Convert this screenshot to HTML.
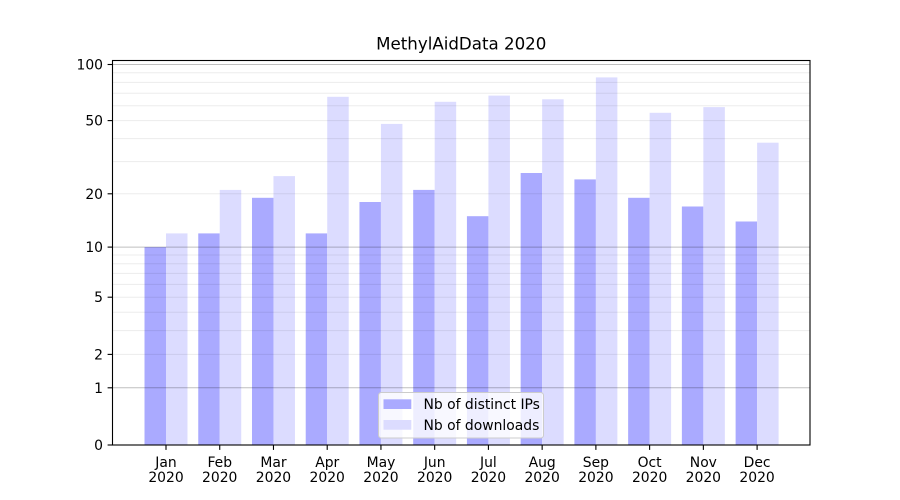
<!DOCTYPE html>
<html>
<head>
<meta charset="utf-8">
<style>
  html, body { margin: 0; padding: 0; background: #ffffff; }
  svg { display: block; }
  text { font-family: "DejaVu Sans", "Liberation Sans", sans-serif; fill: #000; }
</style>
</head>
<body>
<svg width="900" height="500" viewBox="0 0 900 500" xmlns="http://www.w3.org/2000/svg">
  <rect x="0" y="0" width="900" height="500" fill="#ffffff"/>

  <!-- Bars: distinct IPs -->
  <g fill="#aaaaff">
    <rect x="144.51" y="247.1" width="21.49" height="197.9"/>
    <rect x="198.25" y="233.4" width="21.49" height="211.6"/>
    <rect x="251.98" y="197.8" width="21.49" height="247.2"/>
    <rect x="305.72" y="233.4" width="21.49" height="211.6"/>
    <rect x="359.45" y="202.0" width="21.49" height="243.0"/>
    <rect x="413.19" y="189.9" width="21.49" height="255.1"/>
    <rect x="466.93" y="216.2" width="21.49" height="228.8"/>
    <rect x="520.66" y="173.0" width="21.49" height="272.0"/>
    <rect x="574.40" y="179.4" width="21.49" height="265.6"/>
    <rect x="628.13" y="197.8" width="21.49" height="247.2"/>
    <rect x="681.87" y="206.5" width="21.49" height="238.5"/>
    <rect x="735.61" y="221.5" width="21.49" height="223.5"/>
  </g>
  <!-- Bars: downloads -->
  <g fill="#dcdcff">
    <rect x="166.00" y="233.4" width="21.49" height="211.6"/>
    <rect x="219.74" y="189.9" width="21.49" height="255.1"/>
    <rect x="273.47" y="176.1" width="21.49" height="268.9"/>
    <rect x="327.21" y="96.8" width="21.49" height="348.2"/>
    <rect x="380.94" y="123.9" width="21.49" height="321.1"/>
    <rect x="434.68" y="101.8" width="21.49" height="343.2"/>
    <rect x="488.42" y="95.6" width="21.49" height="349.4"/>
    <rect x="542.15" y="99.3" width="21.49" height="345.7"/>
    <rect x="595.89" y="77.4" width="21.49" height="367.6"/>
    <rect x="649.62" y="112.8" width="21.49" height="332.2"/>
    <rect x="703.36" y="107.1" width="21.49" height="337.9"/>
    <rect x="757.10" y="142.7" width="21.49" height="302.3"/>
  </g>

  <!-- Minor gridlines -->
  <g stroke="#000" stroke-opacity="0.075" stroke-width="1">
    <line x1="112.5" x2="810" y1="354.4" y2="354.4"/>
    <line x1="112.5" x2="810" y1="330.6" y2="330.6"/>
    <line x1="112.5" x2="810" y1="312.2" y2="312.2"/>
    <line x1="112.5" x2="810" y1="297.2" y2="297.2"/>
    <line x1="112.5" x2="810" y1="284.4" y2="284.4"/>
    <line x1="112.5" x2="810" y1="273.4" y2="273.4"/>
    <line x1="112.5" x2="810" y1="263.7" y2="263.7"/>
    <line x1="112.5" x2="810" y1="255.0" y2="255.0"/>
    <line x1="112.5" x2="810" y1="193.8" y2="193.8"/>
    <line x1="112.5" x2="810" y1="161.6" y2="161.6"/>
    <line x1="112.5" x2="810" y1="138.6" y2="138.6"/>
    <line x1="112.5" x2="810" y1="120.6" y2="120.6"/>
    <line x1="112.5" x2="810" y1="105.8" y2="105.8"/>
    <line x1="112.5" x2="810" y1="93.3" y2="93.3"/>
    <line x1="112.5" x2="810" y1="82.4" y2="82.4"/>
    <line x1="112.5" x2="810" y1="72.8" y2="72.8"/>
  </g>
  <!-- Major gridlines -->
  <g stroke="#000" stroke-opacity="0.25" stroke-width="1">
    <line x1="112.5" x2="810" y1="387.8" y2="387.8"/>
    <line x1="112.5" x2="810" y1="247.1" y2="247.1"/>
    <line x1="112.5" x2="810" y1="64.5" y2="64.5"/>
  </g>

  <!-- Legend -->
  <rect x="378.5" y="392.5" width="165" height="45.5" rx="2.8" ry="2.8" fill="#ffffff" fill-opacity="0.8" stroke="#cccccc" stroke-width="1"/>
  <rect x="383.5" y="399.3" width="27.8" height="9.7" fill="#aaaaff"/>
  <rect x="383.5" y="420.0" width="27.8" height="9.7" fill="#dcdcff"/>
  <text x="423.5" y="409" font-size="13.9">Nb of distinct IPs</text>
  <text x="423.5" y="430" font-size="13.9">Nb of downloads</text>

  <!-- Spines -->
  <rect x="112.5" y="60.5" width="697.5" height="384.5" fill="none" stroke="#000" stroke-width="1.1"/>

  <!-- Y ticks -->
  <g stroke="#000" stroke-width="1.1">
    <line x1="107.6" x2="112.5" y1="445" y2="445"/>
    <line x1="107.6" x2="112.5" y1="387.8" y2="387.8"/>
    <line x1="107.6" x2="112.5" y1="354.4" y2="354.4"/>
    <line x1="107.6" x2="112.5" y1="297.2" y2="297.2"/>
    <line x1="107.6" x2="112.5" y1="247.1" y2="247.1"/>
    <line x1="107.6" x2="112.5" y1="193.8" y2="193.8"/>
    <line x1="107.6" x2="112.5" y1="120.6" y2="120.6"/>
    <line x1="107.6" x2="112.5" y1="64.5" y2="64.5"/>
  </g>
  <g font-size="13.9" text-anchor="end">
    <text x="103" y="450">0</text>
    <text x="103" y="392.8">1</text>
    <text x="103" y="359.4">2</text>
    <text x="103" y="302.2">5</text>
    <text x="103" y="252.1">10</text>
    <text x="103" y="198.8">20</text>
    <text x="103" y="125.6">50</text>
    <text x="103" y="69.5">100</text>
  </g>

  <!-- X ticks -->
  <g stroke="#000" stroke-width="1.1">
    <line x1="166.00" x2="166.00" y1="445" y2="449.9"/>
    <line x1="219.74" x2="219.74" y1="445" y2="449.9"/>
    <line x1="273.47" x2="273.47" y1="445" y2="449.9"/>
    <line x1="327.21" x2="327.21" y1="445" y2="449.9"/>
    <line x1="380.94" x2="380.94" y1="445" y2="449.9"/>
    <line x1="434.68" x2="434.68" y1="445" y2="449.9"/>
    <line x1="488.42" x2="488.42" y1="445" y2="449.9"/>
    <line x1="542.15" x2="542.15" y1="445" y2="449.9"/>
    <line x1="595.89" x2="595.89" y1="445" y2="449.9"/>
    <line x1="649.62" x2="649.62" y1="445" y2="449.9"/>
    <line x1="703.36" x2="703.36" y1="445" y2="449.9"/>
    <line x1="757.10" x2="757.10" y1="445" y2="449.9"/>
  </g>
  <g font-size="13.9" text-anchor="middle">
    <text x="166.00" y="467">Jan</text><text x="166.00" y="482">2020</text>
    <text x="219.74" y="467">Feb</text><text x="219.74" y="482">2020</text>
    <text x="273.47" y="467">Mar</text><text x="273.47" y="482">2020</text>
    <text x="327.21" y="467">Apr</text><text x="327.21" y="482">2020</text>
    <text x="380.94" y="467">May</text><text x="380.94" y="482">2020</text>
    <text x="434.68" y="467">Jun</text><text x="434.68" y="482">2020</text>
    <text x="488.42" y="467">Jul</text><text x="488.42" y="482">2020</text>
    <text x="542.15" y="467">Aug</text><text x="542.15" y="482">2020</text>
    <text x="595.89" y="467">Sep</text><text x="595.89" y="482">2020</text>
    <text x="649.62" y="467">Oct</text><text x="649.62" y="482">2020</text>
    <text x="703.36" y="467">Nov</text><text x="703.36" y="482">2020</text>
    <text x="757.10" y="467">Dec</text><text x="757.10" y="482">2020</text>
  </g>

  <!-- Title -->
  <text x="461.25" y="49.5" font-size="16.67" text-anchor="middle">MethylAidData 2020</text>
</svg>
</body>
</html>
